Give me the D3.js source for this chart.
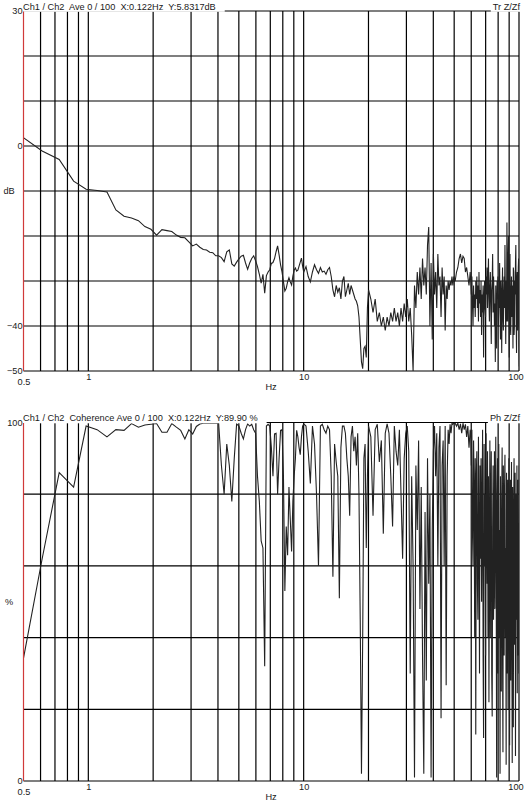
<!DOCTYPE html>
<html>
<head>
<meta charset="utf-8">
<script src="https://cdn.jsdelivr.net/npm/d3@7"></script>
<style>
body { margin: 0; background: #fff; }
svg text { font-family: "Liberation Sans", Arial, sans-serif; font-size: 9.2px; fill: #1a1a1a; white-space: pre; }
</style>
</head>
<body>
<svg id="chart" width="528" height="806"></svg>
<script>
// analyser bin spacing (Hz) and the runs of bins: [first, last, step]
var binHz = 0.1220703;
var binRuns = [[4, 82, 1], [84, 164, 2], [168, 408, 4], [414, 486, 6], [489, 822, 3]];

var gridHz = [0.6, 0.7, 0.8, 0.9, 1, 2, 3, 4, 5, 6, 7, 8, 9, 10, 20, 30, 40, 50, 60, 70, 80, 90, 100];
var hzLabels = [0.5, 1, 10, 100];

var trGrid = [30, 20, 10, 0, -10, -20, -30, -40, -50];
var trLabels = [30, 0, -40, -50];
var cohGrid = [0, 20, 40, 60, 80, 100];
var cohLabels = [0, 100];

// transfer function Z/Zf, dB
var trDb = [
  2.2, -1.1, -3.0, -7.8, -9.6, -9.9, -10.2, -14.2, -15.6, -16.0,
  -16.6, -17.9, -18.5, -19.8, -18.6, -18.8, -19.0, -19.8, -20.3, -20.4,
  -21.3, -22.2, -21.8, -22.5, -23.0, -23.1, -23.6, -23.7, -24.4, -24.4,
  -24.8, -25.7, -23.5, -23.1, -26.2, -26.7, -25.8, -25.1, -24.5, -24.3,
  -26.0, -27.4, -26.0, -25.0, -24.4, -25.5, -26.8, -28.5, -30.5, -28.5,
  -32.7, -28.8, -28.0, -27.5, -26.1, -25.9, -25.0, -23.5, -22.2, -24.2,
  -26.4, -28.0, -30.2, -32.2, -31.6, -30.2, -29.3, -30.2, -30.9, -28.9,
  -27.6, -27.1, -27.8, -27.6, -26.7, -25.8, -24.9, -26.7, -28.0,
  -26.8, -29, -30.2, -28, -26.4, -27.5, -28.3, -27, -28, -27.8,
  -28.5, -27.5, -27, -29, -32, -33.5, -31, -32.5, -31.5, -34,
  -30, -29, -33.5, -32, -30.5, -33, -31, -32, -33, -34,
  -34.5, -35.5, -38, -43, -48, -49.5, -45, -44.5, -47, -36,
  -32,
  -34, -37, -34, -39, -37, -40, -38, -41, -38, -40,
  -37, -39, -36, -39, -37, -40, -36, -39, -35, -38,
  -34, -39, -36, -42, -50, -31, -36, -28, -33, -27,
  -34, -25, -31, -27, -33, -22, -18, -40, -26, -43,
  -24, -33, -28, -36, -24, -31, -29, -38, -27, -33,
  -29, -41, -31, -34, -30, -32, -30, -31, -29, -31,
  -29,
  -30, -28, -27, -25, -24, -26, -24.5, -25, -28, -27,
  -29, -31, -28,
  -30, -33, -29, -35, -40, -31, -36, -33, -38, -30,
  -34, -29, -36, -31, -39, -28, -35, -32, -38, -30,
  -42, -33, -37, -31, -47, -34, -30, -36, -38, -29,
  -33, -27, -36, -30, -25, -34, -39, -31, -28, -35,
  -44, -32, -30, -24, -37, -29, -33, -40, -35, -48,
  -31, -38, -45, -30, -34, -29, -40, -33, -36, -26,
  -37, -43, -30, -35, -46, -32, -27, -38, -41, -33,
  -29, -36, -22, -34, -44, -30, -39, -17, -31, -39,
  -26, -20, -35, -47, -28, -24, -40, -42, -33, -29,
  -38, -36, -31, -45, -27, -28, -42, -40, -30, -33,
  -26, -22, -39, -46, -30, -28, -41, -38, -27, -25,
  -44, -49
];

// coherence, %
var cohPct = [
  31, 62, 86, 82, 99, 98, 96, 98, 97.8, 99.7,
  98.7, 99.3, 99.5, 99.7, 97.3, 97.3, 99.7, 98.7, 97.8, 95.4,
  98, 96.8, 98.9, 99.6, 99.8, 99.9, 99.8, 99.9, 99.8, 99.8,
  88, 80, 94, 88, 78, 90, 99.6, 99, 97, 95.4,
  98, 99.6, 99, 99.5, 98, 97, 85, 78, 67, 65,
  32, 99, 99.5, 99, 93, 85, 96.8, 97, 80, 90,
  97.8, 98, 85, 53, 71, 63, 82, 73, 64, 78,
  85, 90, 97.8, 96, 93, 91, 96, 99, 99.6,
  99, 92, 83, 99, 94, 80, 60, 99, 99.5, 98,
  97, 99, 98, 85, 57, 94, 89, 85, 51, 93,
  99, 99, 97, 90, 85, 74, 96, 99, 92, 96,
  88, 97, 80, 45, 2, 40, 90, 94, 65, 85,
  99,
  96, 74, 98, 99.5, 89, 95, 69, 97, 99.6, 97,
  85, 71, 99, 92, 88, 98, 80, 62, 90, 97,
  99, 92, 30, 85, 60, 1, 88, 70, 95, 48,
  82, 35, 2, 75, 28, 90, 55, 80, 1, 70,
  92, 99, 85, 97, 60, 93, 99, 17.5, 88, 95,
  60, 99, 26.7, 85, 98, 94, 99.5, 97, 99.8, 99.5,
  99.8,
  99.8, 99, 99.8, 98, 99.6, 97, 99.8, 98, 99.5, 96,
  99, 93, 98,
  97, 88, 98, 70, 60, 95, 82, 40, 90, 13,
  85, 92, 55, 45, 96, 70, 30, 88, 62, 90,
  50, 75, 98, 35, 12, 94, 60, 80, 35, 97,
  70, 55, 92, 40, 85, 22, 65, 95, 40, 78,
  92, 30, 18, 70, 88, 45, 60, 92, 48, 75,
  96, 55, 1, 80, 90, 30, 62, 94, 40, 70,
  2, 85, 50, 25, 78, 93, 35, 8, 88, 60,
  35, 82, 91, 40, 65, 4.5, 86, 55, 30, 84,
  20, 70, 90, 45, 10, 80, 84, 28, 65, 89,
  40, 5, 82, 60, 15, 75, 90, 38, 68, 86,
  7, 55, 80, 45, 88, 24.5, 60, 84, 35, 72,
  30, 88
];

var freqs = [];
binRuns.forEach(function(r) {
  for (var k = r[0]; k <= r[1]; k += r[2]) freqs.push(k * binHz);
});

var svg = d3.select("#chart");

function panel(cfg) {
  var x = d3.scaleLog().domain([0.5, 100]).range([23.5, 519]);
  var y = d3.scaleLinear().domain(cfg.yDomain).range([cfg.bottom, cfg.top]);
  var g = svg.append("g");

  g.append("clipPath").attr("id", cfg.id).append("rect")
      .attr("x", x(0.5))
      .attr("y", cfg.top)
      .attr("width", x(100) - x(0.5))
      .attr("height", cfg.bottom - cfg.top);

  g.selectAll(".hgrid")
      .data(cfg.grid)
    .enter().append("line")
      .attr("x1", x(0.5)).attr("x2", x(100))
      .attr("y1", function(d) { return y(d); })
      .attr("y2", function(d) { return y(d); })
      .attr("stroke", "#000")
      .attr("stroke-width", 1.2);

  g.selectAll(".vgrid")
      .data(gridHz)
    .enter().append("line")
      .attr("x1", function(d) { return x(d); })
      .attr("x2", function(d) { return x(d); })
      .attr("y1", cfg.top).attr("y2", cfg.bottom)
      .attr("stroke", "#000")
      .attr("stroke-width", 1.2);

  var line = d3.line()
      .x(function(d) { return x(d[0]); })
      .y(function(d) { return y(d[1]); });

  g.append("path")
      .datum(d3.zip(freqs, cfg.values))
      .attr("clip-path", "url(#" + cfg.id + ")")
      .attr("fill", "none")
      .attr("stroke", "#222")
      .attr("stroke-width", 1.1)
      .attr("d", line);

  // boxes behind the header texts hide the top frame line
  var boxes = g.append("g");

  g.append("line")
      .attr("x1", x(0.5)).attr("x2", x(0.5))
      .attr("y1", cfg.top + 0.5).attr("y2", cfg.bottom)
      .attr("stroke", "#d03a3a")
      .attr("stroke-width", 1.2);

  var title = g.append("text")
      .attr("x", 23)
      .attr("y", cfg.top - 1.5)
      .text(cfg.title);
  boxes.append("rect")
      .attr("x", 23).attr("y", cfg.top - 11)
      .attr("width", title.node().getComputedTextLength() + 9)
      .attr("height", 11.8)
      .attr("fill", "#fff");

  var right = g.append("text")
      .attr("x", 520)
      .attr("y", cfg.top - 1.5)
      .attr("text-anchor", "end")
      .text(cfg.rightLabel);
  var rw = right.node().getComputedTextLength();
  boxes.append("rect")
      .attr("x", 520 - rw - 2).attr("y", cfg.top - 11)
      .attr("width", rw + 8)
      .attr("height", 11.8)
      .attr("fill", "#fff");

  // y labels
  var ya = g.append("g")
      .attr("transform", "translate(" + x(0.5) + ",0)")
      .call(d3.axisLeft(y).tickValues(cfg.labels).tickSize(0).tickPadding(1).tickFormat(d3.format("d")));
  ya.select(".domain").remove();

  g.append("text")
      .attr("x", 9)
      .attr("y", y(cfg.unitAt))
      .attr("dy", "0.32em")
      .attr("text-anchor", "middle")
      .text(cfg.unit);

  // x labels
  var xa = g.append("g")
      .attr("transform", "translate(0," + cfg.bottom + ")")
      .call(d3.axisBottom(x).tickValues(hzLabels).tickSize(0).tickPadding(2.5).tickFormat(function(d) { return String(d); }));
  xa.select(".domain").remove();
  xa.selectAll(".tick text")
      .filter(function(d) { return d === 0.5; })
      .attr("y", 7.5);
  xa.selectAll(".tick text")
      .filter(function(d) { return d === 100; })
      .attr("dx", -3.5);

  g.append("text")
      .attr("x", 271)
      .attr("y", cfg.bottom + 19)
      .attr("text-anchor", "middle")
      .text("Hz");
}

panel({
  id: "clip-tr",
  top: 11,
  bottom: 371,
  yDomain: [-50, 30],
  grid: trGrid,
  labels: trLabels,
  unit: "dB",
  unitAt: -10,
  values: trDb,
  title: "Ch1 / Ch2  Ave 0 / 100  X:0.122Hz  Y:5.8317dB",
  rightLabel: "Tr Z/Zf"
});

panel({
  id: "clip-coh",
  top: 422.5,
  bottom: 781,
  yDomain: [0, 100],
  grid: cohGrid,
  labels: cohLabels,
  unit: "%",
  unitAt: 50,
  values: cohPct,
  title: "Ch1 / Ch2  Coherence Ave 0 / 100  X:0.122Hz  Y:89.90 %",
  rightLabel: "Ph Z/Zf"
});
</script>
</body>
</html>
